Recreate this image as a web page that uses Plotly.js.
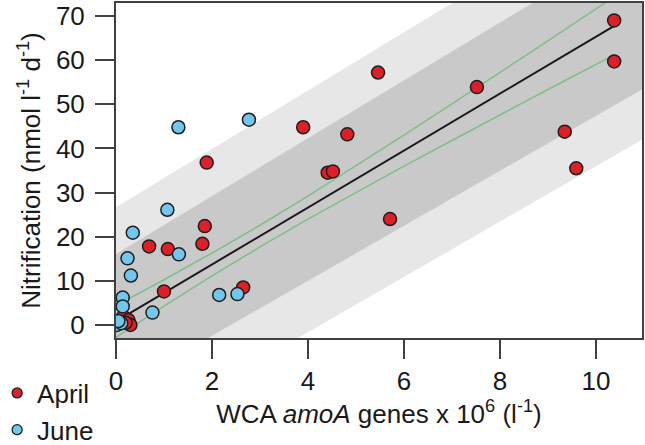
<!DOCTYPE html>
<html>
<head>
<meta charset="utf-8">
<script src="https://cdn.plot.ly/plotly-3.0.1.min.js"></script>
<style>
  html, body { margin: 0; padding: 0; background: #ffffff; }
  #chart { width: 645px; height: 445px; }
</style>
</head>
<body>
<div id="chart"></div>
<script>
// ---- Data ----
// April samples (WCA amoA genes x 10^6 per litre, nitrification nmol l-1 d-1)
const aprilX = [10.38, 10.38, 7.52, 5.46, 3.90, 4.82, 4.41, 4.52, 1.89, 9.35, 9.59, 1.85, 1.80, 0.69, 1.08, 5.71, 1.00, 2.65, 0.15, 0.26, 0.30, 0.20];
const aprilY = [69.0, 59.7, 53.9, 57.2, 44.8, 43.2, 34.5, 34.8, 36.8, 43.8, 35.5, 22.4, 18.4, 17.8, 17.2, 24.0, 7.6, 8.5, 1.9, 1.1, 0.0, 0.5];
// June samples
const juneX = [1.30, 2.77, 1.07, 0.35, 1.31, 0.24, 0.31, 0.14, 0.14, 0.76, 2.15, 2.53, 0.02, 0.11, 0.05];
const juneY = [44.8, 46.5, 26.1, 20.9, 16.0, 15.1, 11.2, 6.2, 4.2, 2.8, 6.8, 7.0, 0.0, 0.4, 0.9];

// Regression line
const fitX = [0, 10.4];
const fitY = [0.8, 67.9];

// Confidence band of the regression (green lines)
const ciX = [0, 1, 2, 3, 4, 5, 6, 7, 8, 9, 10.4];
const ciUpper = [4.4, 10.25, 16.3, 22.6, 29.2, 36.05, 43.0, 50.1, 57.2, 64.35, 74.5];
const ciLower = [-2.8, 4.25, 11.1, 17.7, 24.0, 30.05, 36.0, 41.8, 47.6, 53.35, 61.3];

// Shaded prediction bands (values at the band x ends)
const bandX = [0, 11];
const lightUpper = [26.7, 99.3];
const lightLower = [-26.7, 42.2];
const darkUpper = [16.1, 88.15];
const darkLower = [-14.9, 53.6];

// Ticks
const xTicks = [0, 2, 4, 6, 8, 10];
const yTicks = [0, 10, 20, 30, 40, 50, 60, 70];

// ---- Helpers ----
function polygon(xs, lower, upper) {
  return {
    x: xs.concat(xs.slice().reverse()),
    y: lower.concat(upper.slice().reverse())
  };
}
const lightPoly = polygon(bandX, lightLower, lightUpper);
const darkPoly = polygon(bandX, darkLower, darkUpper);

const FONT = 'Liberation Sans, Arial, Helvetica, sans-serif';
const RED = '#de1f27';
const BLUE = '#72c7ef';
const EDGE = '#1e1e1e';
const FS = 26;

const traces = [
  { x: lightPoly.x, y: lightPoly.y, type: 'scatter', mode: 'lines', fill: 'toself',
    fillcolor: '#e7e7e7', line: { width: 0 }, hoverinfo: 'skip', showlegend: false },
  { x: darkPoly.x, y: darkPoly.y, type: 'scatter', mode: 'lines', fill: 'toself',
    fillcolor: '#c9c9c9', line: { width: 0 }, hoverinfo: 'skip', showlegend: false },
  { x: ciX, y: ciUpper, type: 'scatter', mode: 'lines',
    line: { color: '#7dbf88', width: 1.5 }, showlegend: false },
  { x: ciX, y: ciLower, type: 'scatter', mode: 'lines',
    line: { color: '#7dbf88', width: 1.5 }, showlegend: false },
  { x: fitX, y: fitY, type: 'scatter', mode: 'lines',
    line: { color: '#1a1a1a', width: 2 }, showlegend: false },
  { x: aprilX, y: aprilY, type: 'scatter', mode: 'markers', name: 'April',
    marker: { color: RED, size: 13, line: { color: EDGE, width: 1.5 } }, showlegend: false },
  { x: juneX, y: juneY, type: 'scatter', mode: 'markers', name: 'June',
    marker: { color: BLUE, size: 13, line: { color: EDGE, width: 1.5 } }, showlegend: false },
  // legend entries (smaller symbols as in the reference)
  { x: [null], y: [null], type: 'scatter', mode: 'markers', name: 'April',
    marker: { color: RED, size: 10, line: { color: EDGE, width: 1.3 } }, showlegend: true },
  { x: [null], y: [null], type: 'scatter', mode: 'markers', name: 'June',
    marker: { color: BLUE, size: 10, line: { color: EDGE, width: 1.3 } }, showlegend: true }
];

const axisCommon = {
  showgrid: false, zeroline: false, automargin: false,
  showline: true, mirror: true, linecolor: '#404040', linewidth: 2,
  ticks: 'outside', ticklen: 19, tickwidth: 2, tickcolor: '#404040',
  tickfont: { family: FONT, size: FS, color: '#1a1a1a' },
  fixedrange: true
};

const layout = {
  width: 645, height: 445,
  margin: { l: 116, r: 3, t: 3, b: 107, autoexpand: false },
  paper_bgcolor: '#ffffff', plot_bgcolor: '#ffffff',
  font: { family: FONT, size: FS, color: '#1a1a1a' },
  xaxis: Object.assign({}, axisCommon, {
    range: [0, 10.96], tickmode: 'array', tickvals: xTicks,
    ticktext: xTicks.map(String),
    title: { text: 'WCA <i>amoA</i> genes x 10<sup>6</sup> (l<sup>-1</sup>)',
             font: { family: FONT, size: FS, color: '#1a1a1a' }, standoff: 6 }
  }),
  yaxis: Object.assign({}, axisCommon, {
    range: [-2.95, 72.95], tickmode: 'array', tickvals: yTicks,
    ticktext: yTicks.map(String), ticklabelstandoff: 5,
    title: { text: 'Nitrification (nmol l<sup>-1</sup> d<sup>-1</sup>)',
             font: { family: FONT, size: FS, color: '#1a1a1a' }, standoff: 8 }
  }),
  showlegend: true,
  legend: {
    x: -0.226, y: -0.094, xanchor: 'left', yanchor: 'top',
    bgcolor: 'rgba(0,0,0,0)', borderwidth: 0,
    font: { family: FONT, size: FS, color: '#1a1a1a' },
    itemclick: false, itemdoubleclick: false, tracegroupgap: 0
  }
};

Plotly.newPlot('chart', traces, layout, { staticPlot: true, displayModeBar: false });
</script>
</body>
</html>
